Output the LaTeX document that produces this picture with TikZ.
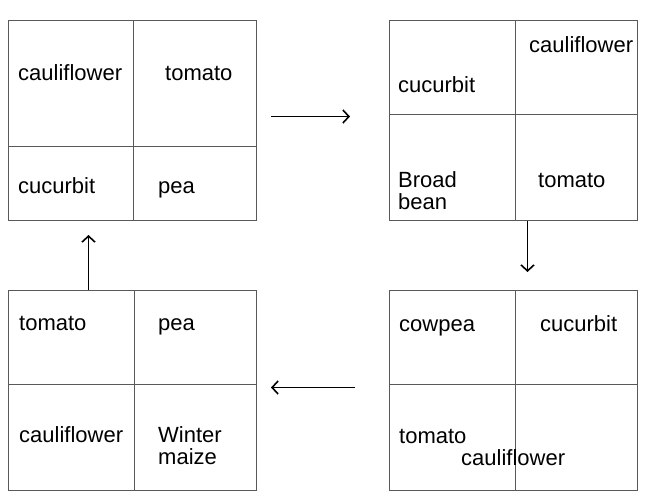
\documentclass[tikz,border=0pt]{standalone}
\usepackage{fontspec}
\setmainfont{Liberation Sans}
\usetikzlibrary{arrows.meta}
\begin{document}
\begin{tikzpicture}[x=1pt,y=-1pt,
  box/.style={draw=black!65,line width=1pt,inner sep=0pt,anchor=north west},
  divider/.style={draw=black!65,line width=1pt},
  lbl/.style={anchor=base west,inner sep=0pt,font=\fontsize{22}{21}\selectfont},
  arr/.style={draw=black,line width=1.8pt,-{Straight Barb[length=6pt,width=13pt,line width=1.6pt]}}]
\useasboundingbox[fill=white] (0,0) rectangle (651,493);
% boxes
\node[box,minimum width=248pt,minimum height=200pt] (A) at (8,20) {};
\node[box,minimum width=248pt,minimum height=200pt] (B) at (389,20) {};
\node[box,minimum width=248pt,minimum height=200pt] (C) at (389,290) {};
\node[box,minimum width=248pt,minimum height=200pt] (D) at (8,290) {};
% dividers
\draw[divider] (A.north -| 133,0) -- (A.south -| 133,0);
\draw[divider] (A.west |- 0,146) -- (A.east |- 0,146);
\draw[divider] (B.north -| 515,0) -- (B.south -| 515,0);
\draw[divider] (B.west |- 0,114) -- (B.east |- 0,114);
\draw[divider] (C.north -| 515,0) -- (C.south -| 515,0);
\draw[divider] (C.west |- 0,384) -- (C.east |- 0,384);
\draw[divider] (D.north -| 134,0) -- (D.south -| 134,0);
\draw[divider] (D.west |- 0,384) -- (D.east |- 0,384);
% labels A
\node[lbl] (a1) at (18,80) {cauliflower};
\node[lbl] (a2) at (165,80) {tomato};
\node[lbl] (a3) at (18,193) {cucurbit};
\node[lbl] (a4) at (158,193) {pea};
% labels B
\node[lbl] (b1) at (529,52) {cauliflower};
\node[lbl] (b2) at (398,92) {cucurbit};
\node[lbl] (b3) at (398,187) {\begin{tabular}[t]{@{}l@{}}Broad\\bean\end{tabular}};
\node[lbl] (b4) at (538,187) {tomato};
% labels C
\node[lbl] (c1) at (399,331) {cowpea};
\node[lbl] (c2) at (540,331) {cucurbit};
\node[lbl] (c3) at (399,443) {tomato};
\node[lbl] (c4) at (461,465) {cauliflower};
% labels D
\node[lbl] (d1) at (19,330) {tomato};
\node[lbl] (d2) at (158,330) {pea};
\node[lbl] (d3) at (19,442) {cauliflower};
\node[lbl] (d4) at (158,442) {\begin{tabular}[t]{@{}l@{}}Winter\\maize\end{tabular}};
% arrows
\draw[arr,shorten <=14pt,shorten >=39pt] ([yshift=4pt]A.east) -- ([yshift=4pt]B.west);
\draw[arr,shorten <=0pt,shorten >=18pt] ([xshift=14pt]B.south) -- ([xshift=14pt]C.north);
\draw[arr,shorten <=34pt,shorten >=14pt] ([yshift=3pt]C.west) -- ([yshift=3pt]D.east);
\draw[arr,shorten <=0pt,shorten >=14pt] ([xshift=-44pt]D.north) -- ([xshift=-44pt]A.south);
\end{tikzpicture}
\end{document}
